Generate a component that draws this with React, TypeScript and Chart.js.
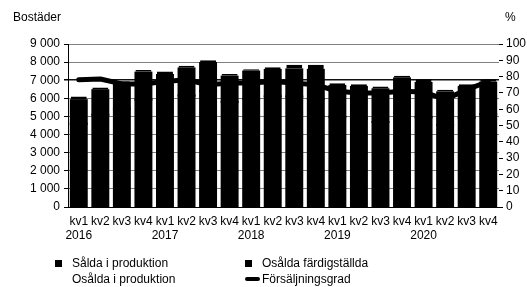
import React, { useEffect, useRef } from 'react';
import { Chart, registerables } from 'chart.js';

Chart.register(...registerables);

const years = ['2016', '2017', '2018', '2019', '2020'];
const quarters = ['kv1', 'kv2', 'kv3', 'kv4'];

const saldaIProduktion = [4600, 5100, 5430, 5920, 5890, 6150, 6400, 5800, 5980, 6120, 6100, 5970, 4980, 4880, 4700, 5200, 4950, 4530, 4930, 5120];
const osaldaIProduktion = [1300, 1350, 1400, 1500, 1400, 1500, 1550, 1400, 1500, 1450, 1500, 1600, 1700, 1750, 1800, 1900, 1900, 1800, 1700, 1750];
const osaldaFardigstallda = [200, 150, 120, 150, 190, 150, 150, 150, 120, 150, 250, 280, 150, 150, 150, 150, 200, 150, 150, 180];
const forsaljningsgrad = [78, 78.5, 75.5, 75.5, 77, 78, 75, 76, 76, 77, 76, 75, 71, 70, 70, 71, 70.5, 66, 72, 77];

const leftMax = 9000;
const leftStep = 1000;
const rightMax = 100;
const rightStep = 10;

const FONT = "'Liberation Sans', Arial, sans-serif";

const categories = years.flatMap((y) => quarters.map((q, i) => (i === 0 ? [q, y] : q)));

function fmtThousands(v: number) {
  if (v >= 1000) return `${Math.floor(v / 1000)} 000`;
  return String(v);
}

export default function App() {
  const ref = useRef<HTMLCanvasElement | null>(null);

  useEffect(() => {
    if (!ref.current) return;
    const chart = new Chart(ref.current, {
      type: 'bar',
      data: {
        labels: categories as any,
        datasets: [
          {
            type: 'line',
            label: 'Försäljningsgrad',
            data: forsaljningsgrad,
            yAxisID: 'y1',
            borderColor: '#000',
            backgroundColor: '#000',
            borderWidth: 5,
            borderCapStyle: 'round',
            borderJoinStyle: 'round',
            pointRadius: 0,
            tension: 0,
            order: 0,
          } as any,
          {
            label: 'Sålda i produktion',
            data: saldaIProduktion,
            backgroundColor: '#000',
            borderWidth: 0,
            inflateAmount: 1,
            barPercentage: 0.74,
            categoryPercentage: 1,
            order: 1,
          } as any,
          {
            label: 'Osålda i produktion',
            data: osaldaIProduktion,
            backgroundColor: '#000',
            borderWidth: 0,
            inflateAmount: 1,
            barPercentage: 0.74,
            categoryPercentage: 1,
            order: 1,
          } as any,
          {
            label: 'Osålda färdigställda',
            data: osaldaFardigstallda,
            backgroundColor: '#000',
            borderColor: '#fff',
            borderWidth: { top: 0, left: 0, right: 0, bottom: 1 },
            borderSkipped: false,
            barPercentage: 0.74,
            categoryPercentage: 1,
            order: 1,
          } as any,
        ],
      },
      options: {
        animation: false,
        responsive: false,
        maintainAspectRatio: false,
        layout: { padding: { top: 44, bottom: 0, left: 0, right: 0 } },
        plugins: { legend: { display: false }, tooltip: { enabled: false } },
        scales: {
          x: {
            stacked: true,
            grid: { display: false, drawTicks: false },
            border: { display: true, color: '#000', width: 1 },
            ticks: {
              color: '#000',
              font: { family: FONT, size: 12 },
              maxRotation: 0,
              autoSkip: false,
              padding: 7,
            },
            afterFit: (s: any) => {
              s.height = 80;
            },
          },
          y: {
            stacked: true,
            position: 'left',
            min: 0,
            max: leftMax,
            ticks: {
              stepSize: leftStep,
              autoSkip: false,
              color: '#000',
              font: { family: FONT, size: 12 },
              padding: 4,
              callback: (v: any) => fmtThousands(Number(v)),
            },
            grid: {
              color: (ctx: any) => (ctx.tick && ctx.tick.value === 7000 ? '#111' : '#808080'),
              lineWidth: (ctx: any) => (ctx.tick && ctx.tick.value === 7000 ? 1.5 : 1),
              tickLength: 4,
              tickColor: '#000',
            },
            border: { display: true, color: '#000', width: 1 },
            afterFit: (s: any) => {
              s.width = 68;
            },
          },
          y1: {
            position: 'right',
            min: 0,
            max: rightMax,
            ticks: {
              stepSize: rightStep,
              autoSkip: false,
              color: '#000',
              font: { family: FONT, size: 12 },
              padding: 3,
            },
            grid: { drawOnChartArea: false, tickLength: 4, tickColor: '#000' },
            border: { display: false },
            afterFit: (s: any) => {
              s.width = 28;
            },
          },
        },
      },
    });
    return () => chart.destroy();
  }, []);

  const text: React.CSSProperties = {
    position: 'absolute',
    fontFamily: FONT,
    fontSize: 12,
    color: '#000',
    lineHeight: '14px',
    whiteSpace: 'nowrap',
  };
  const box: React.CSSProperties = { position: 'absolute', width: 7, height: 7, background: '#000' };

  return (
    <div style={{ position: 'fixed', left: 0, top: 0, width: 527, height: 287, background: '#fff' }}>
      <canvas ref={ref} width={527} height={287} style={{ position: 'absolute', left: 0, top: 0, width: 527, height: 287 }} />
      <div style={{ ...text, left: 13, top: 10 }}>Bostäder</div>
      <div style={{ ...text, left: 505, top: 10 }}>%</div>
      <div style={{ ...box, left: 55, top: 260 }} />
      <div style={{ ...text, left: 72, top: 256 }}>Sålda i produktion</div>
      <div style={{ ...text, left: 72, top: 272 }}>Osålda i produktion</div>
      <div style={{ ...box, left: 245, top: 260 }} />
      <div style={{ ...text, left: 262, top: 256 }}>Osålda färdigställda</div>
      <div style={{ position: 'absolute', left: 245, top: 277, width: 15, height: 4, borderRadius: 2, background: '#000' }} />
      <div style={{ ...text, left: 262, top: 272 }}>Försäljningsgrad</div>
    </div>
  );
}
